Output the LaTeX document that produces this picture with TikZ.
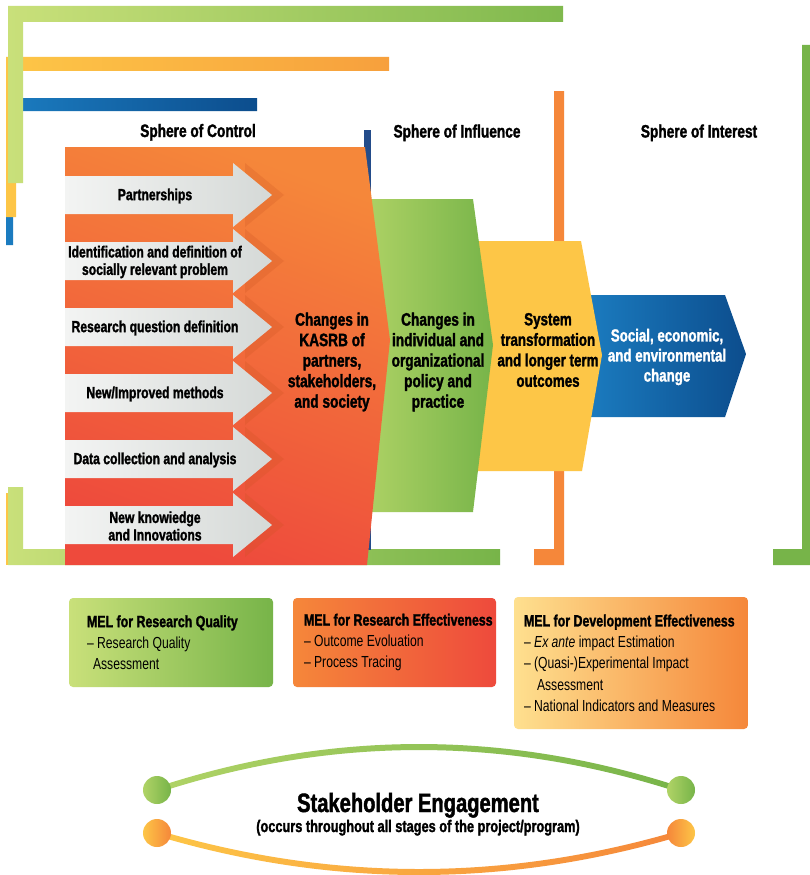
\documentclass[tikz,border=0pt]{standalone}
\usepackage{fontspec}
\setmainfont{Liberation Sans}[FakeStretch=0.76, BoldFeatures={FakeBold=1.6}]
\usetikzlibrary{calc}
\definecolor{gL}{HTML}{C9E07A}
\definecolor{gM}{HTML}{B0D366}
\definecolor{gD}{HTML}{77B449}
\definecolor{yY}{HTML}{FDC647}
\definecolor{yL}{HTML}{FEE08F}
\definecolor{oO}{HTML}{F5873A}
\definecolor{oA}{HTML}{F7A03D}
\definecolor{oR}{HTML}{EE4A3C}
\definecolor{oS}{HTML}{C8521F}
\definecolor{bL}{HTML}{1B7CC0}
\definecolor{bD}{HTML}{0C4D8D}
\definecolor{bN}{HTML}{234C8A}
\definecolor{wA}{HTML}{F3F4F3}
\definecolor{wB}{HTML}{D5D9D7}
\begin{document}
\begin{tikzpicture}[x=1pt,y=-1pt,
  lbl/.style={font=\fontsize{18}{21}\selectfont\bfseries, inner sep=0, anchor=base},
  arrtxt/.style={font=\fontsize{16}{17.5}\selectfont\bfseries, align=center, inner sep=0},
  midtxt/.style={font=\fontsize{18}{20.5}\selectfont\bfseries, align=center, inner sep=0},
  melbox/.style={rounded corners=4pt, inner sep=0},
  meltxt/.style={font=\fontsize{16}{21.2}\selectfont, align=left, inner sep=0, anchor=west},
  meltitle/.style={},
  dot/.style={circle, minimum size=28, inner sep=0},
  arrowshadow/.style={fill=oS, opacity=0.22},
  arrowbody/.style={left color=wA, right color=wB}
]
\useasboundingbox (0,0) rectangle (810,875);
\fill[white] (0,0) rectangle (810,875);

% ---- brackets ----
\shade[left color=bL, right color=bD] (6,98) -- (257,98) -- (257,111) -- (13,111) -- (13,245) -- (6,245) -- cycle;
\shade[left color=yY, right color=oA] (6,57) -- (389,57) -- (389,71) -- (16,71) -- (16,217) -- (6,217) -- cycle;
\fill[yY] (6,493) rectangle (16,565);
\shade[left color=gL, right color=gD!85!gM] (8,6) -- (563,6) -- (563,22) -- (23,22) -- (23,183) -- (8,183) -- cycle;
\shade[left color=gL, right color=gD] (8,487) -- (23,487) -- (23,549) -- (500,549) -- (500,565) -- (8,565) -- cycle;
\fill[oO] (554,91) -- (564,91) -- (564,565) -- (534,565) -- (534,549) -- (554,549) -- cycle;
\fill[gD] (802,45) -- (810,45) -- (810,565) -- (773,565) -- (773,549) -- (802,549) -- cycle;
\fill[bN] (364,130) rectangle (371,550);

% ---- main shapes ----
\shade[left color=bL, right color=bD] (585,295) -- (725,295) -- (746,354) -- (725,417) -- (585,417) -- cycle;
\fill[yY] (470,241) -- (581,241) -- (602,355) -- (582,471) -- (470,471) -- cycle;
\shade[left color=gM, right color=gD] (360,199) -- (473,199) -- (493,345) -- (473,512) -- (360,512) -- cycle;
\shade[top color=oO, middle color=oO!85!oR, bottom color=oR, shading angle=-20] (65,147) -- (365,147) -- (390,340) -- (367,565) -- (65,565) -- cycle;

% ---- white arrows ----
\foreach \t/\txt [count=\i] in {176/{Partnerships},
  242/{Identification and definition of\\socially relevant problem},
  308/{Research question definition},
  374/{New/Improved methods},
  440/{Data collection and analysis},
  506/{New knowiedge\\and Innovations}} {
  \fill[arrowshadow] (77,\t) -- (245,\t) -- (245,\t-13) -- (284,\t+19) -- (245,\t+51) -- (245,\t+38) -- (77,\t+38) -- cycle;
  \shade[arrowbody] (65,\t) -- (233,\t) -- (233,\t-13) -- (272,\t+19) -- (233,\t+51) -- (233,\t+38) -- (65,\t+38) -- cycle;
  \node[arrtxt] (a\i) at (155,\t+20) {\txt};
}

% ---- shape texts ----
\node[midtxt] (kasrb) at (332,362) {Changes in\\KASRB of\\partners,\\stakeholders,\\and society};
\node[midtxt] (indiv) at (438,362) {Changes in\\individual and\\organizational\\policy and\\practice};
\node[midtxt, font=\fontsize{17.6}{20.5}\selectfont\bfseries] (sys) at (548,350) {System\\transformation\\and longer term\\outcomes};
\node[midtxt, text=white, font=\fontsize{17.5}{20}\selectfont\bfseries] (soc) at (667,357) {Social, economic,\\and environmental\\change};

% ---- sphere labels ----
\node[lbl] (s1) at (198,137) {Sphere of Control};
\node[lbl] (s2) at (457,137.5) {Sphere of Influence};
\node[lbl] (s3) at (699,137.5) {Sphere of Interest};

% ---- MEL boxes ----
\node[melbox, left color=gL, right color=gD, minimum width=204, minimum height=89] (m1) at (171,642.5) {};
\node[melbox, left color=oO, right color=oR, minimum width=203, minimum height=89] (m2) at (394.5,642.5) {};
\node[melbox, left color=yL, right color=oO, minimum width=234, minimum height=132] (m3) at (631,663) {};
\node[meltxt] (t1) at ($(m1.west)+(18,0)$) {{\fontsize{16.3}{21.2}\selectfont\bfseries MEL for Research Quality}\\– Research Quality\\\hspace*{6pt}Assessment};
\node[meltxt] (t2) at ($(m2.west)+(11,0)$) {{\fontsize{16.3}{21.2}\selectfont\bfseries MEL for Research Effectiveness}\\– Outcome Evoluation\\– Process Tracing};
\node[meltxt] (t3) at ($(m3.west)+(10,0)$) {{\fontsize{16.3}{21.2}\selectfont\bfseries MEL for Development Effectiveness}\\– \textit{Ex ante} impact Estimation\\– (Quasi-)Experimental Impact\\\hspace*{13pt}Assessment\\– National Indicators and Measures};

% ---- stakeholder engagement ----
\coordinate (g1c) at (157,790);
\coordinate (g2c) at (681,790);
\coordinate (o1c) at (157,833);
\coordinate (o2c) at (681,833);
\shade[left color=gM, right color=gD] ($(g1c)+(0,-3)$) .. controls ($(g1c)+(174.7,-60.3)$) and ($(g2c)+(-174.7,-60.3)$) .. ($(g2c)+(0,-3)$) -- ($(g2c)+(0,3)$) .. controls ($(g2c)+(-174.7,-54.3)$) and ($(g1c)+(174.7,-54.3)$) .. ($(g1c)+(0,3)$) -- cycle;
\shade[left color=yY, right color=oO] ($(o1c)+(0,-3)$) .. controls ($(o1c)+(174.7,49)$) and ($(o2c)+(-174.7,49)$) .. ($(o2c)+(0,-3)$) -- ($(o2c)+(0,3)$) .. controls ($(o2c)+(-174.7,55)$) and ($(o1c)+(174.7,55)$) .. ($(o1c)+(0,3)$) -- cycle;
\node[dot, left color=gM, right color=gD] (g1) at (g1c) {};
\node[dot, left color=gM, right color=gD] (g2) at (g2c) {};
\node[dot, left color=yY, right color=oO] (o1) at (o1c) {};
\node[dot, left color=oO, right color=yY] (o2) at (o2c) {};
\node[font=\fontsize{26.5}{30}\selectfont\bfseries, inner sep=0, anchor=base] (se) at (418,812) {Stakeholder Engagement};
\node[font=\fontsize{16.8}{19}\selectfont\bfseries, inner sep=0, anchor=base] (sub) at (418,832) {(occurs throughout all stages of the project/program)};
\end{tikzpicture}
\end{document}
